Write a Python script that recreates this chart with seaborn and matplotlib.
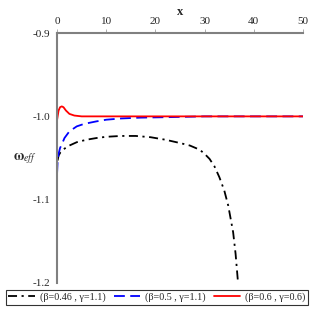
import numpy as np
import pandas as pd
import matplotlib
matplotlib.use("Agg")
import matplotlib.pyplot as plt
import seaborn as sns
from matplotlib.ticker import FuncFormatter

# curve values
x_a = [0.1, 0.3, 0.7, 1.3, 2.5, 4, 6, 8, 10, 13, 16, 19, 22, 25, 27, 29,
       30, 31, 32, 33, 34, 34.8, 35.8, 36.3, 36.8]
y_a = [-1.053, -1.047, -1.043, -1.0395, -1.035, -1.031, -1.028, -1.026,
       -1.0245, -1.0235, -1.0235, -1.025, -1.028, -1.032, -1.035, -1.040,
       -1.045, -1.051, -1.060, -1.073, -1.089, -1.107, -1.139, -1.165, -1.2]

x_b = [0, 0.1, 0.3, 0.6, 1.0, 1.5, 2.5, 4, 5.5, 8, 10, 13, 17, 22, 30, 40, 50]
y_b = [-1.068, -1.055, -1.045, -1.038, -1.033, -1.026, -1.018, -1.012,
       -1.009, -1.006, -1.004, -1.0025, -1.0015, -1.001, -1.0, -1.0, -1.0]

x_c = [0, 0.3, 0.6, 0.95, 1.3, 1.8, 2.5, 3.5, 5, 7, 10, 20, 50]
y_c = [-1.004, -0.993, -0.989, -0.988, -0.989, -0.993, -0.997, -0.999,
       -1.0, -1.0, -1.0, -1.0, -1.0]

labels = ["(\u03b2=0.46 , \u03b3=1.1)", "(\u03b2=0.5 , \u03b3=1.1)", "(\u03b2=0.6 , \u03b3=0.6)"]
colors = ["black", "blue", "red"]
dash_list = [(5, 2.5, 1.2, 2.5), (6, 3), ()]

sns.set_style("white")
plt.rcParams["font.family"] = ["Liberation Serif", "DejaVu Serif"]
plt.rcParams["mathtext.fontset"] = "stix"

fig = plt.figure(figsize=(3.12, 3.12), dpi=100)
ax = fig.add_axes([0.183, 0.093, 0.788, 0.801])

for xs, ys, lab, col in zip([x_a, x_b, x_c], [y_a, y_b, y_c], labels, colors):
    df = pd.DataFrame({"x": xs, "y": ys})
    sns.lineplot(data=df, x="x", y="y", ax=ax, color=col, label=lab,
                 sort=False, estimator=None, linewidth=1.3)

for line, d in zip(ax.lines, dash_list):
    if d:
        line.set_dashes(d)

ax.set_xlim(0, 50)
ax.set_ylim(-1.2, -0.9)
ax.set_xticks([0, 10, 20, 30, 40, 50])
ax.set_yticks([-0.9, -1.0, -1.1, -1.2])
ax.yaxis.set_major_formatter(FuncFormatter(lambda v, p: f"{v:.1f}"))

for s in ["right", "bottom"]:
    ax.spines[s].set_visible(False)
for s in ["left", "top"]:
    ax.spines[s].set_color("#808080")
    ax.spines[s].set_linewidth(1.5)

ax.xaxis.tick_top()
ax.tick_params(axis="both", labelsize=8, length=3, width=0.6, color="#a0a0a0", pad=2)
ax.set_xlabel("")
ax.set_ylabel("")
fig.text(0.577, 0.962, "x", fontsize=9, fontweight="bold", ha="center", va="center")
fig.text(0.08, 0.49, r"$\mathbf{\omega}_{eff}$", fontsize=10, ha="center", va="center")

ax.get_legend().remove()
handles, labs = ax.get_legend_handles_labels()
leg = fig.legend(handles, labs, loc="center", bbox_to_anchor=(0.503, 0.047), ncol=3,
                 fontsize=7.3, frameon=True, fancybox=False, edgecolor="black",
                 handlelength=2.6, handletextpad=0.5, columnspacing=0.8,
                 borderpad=0.25, borderaxespad=0)
leg.get_frame().set_linewidth(0.8)

fig.savefig("out.png", dpi=100)
